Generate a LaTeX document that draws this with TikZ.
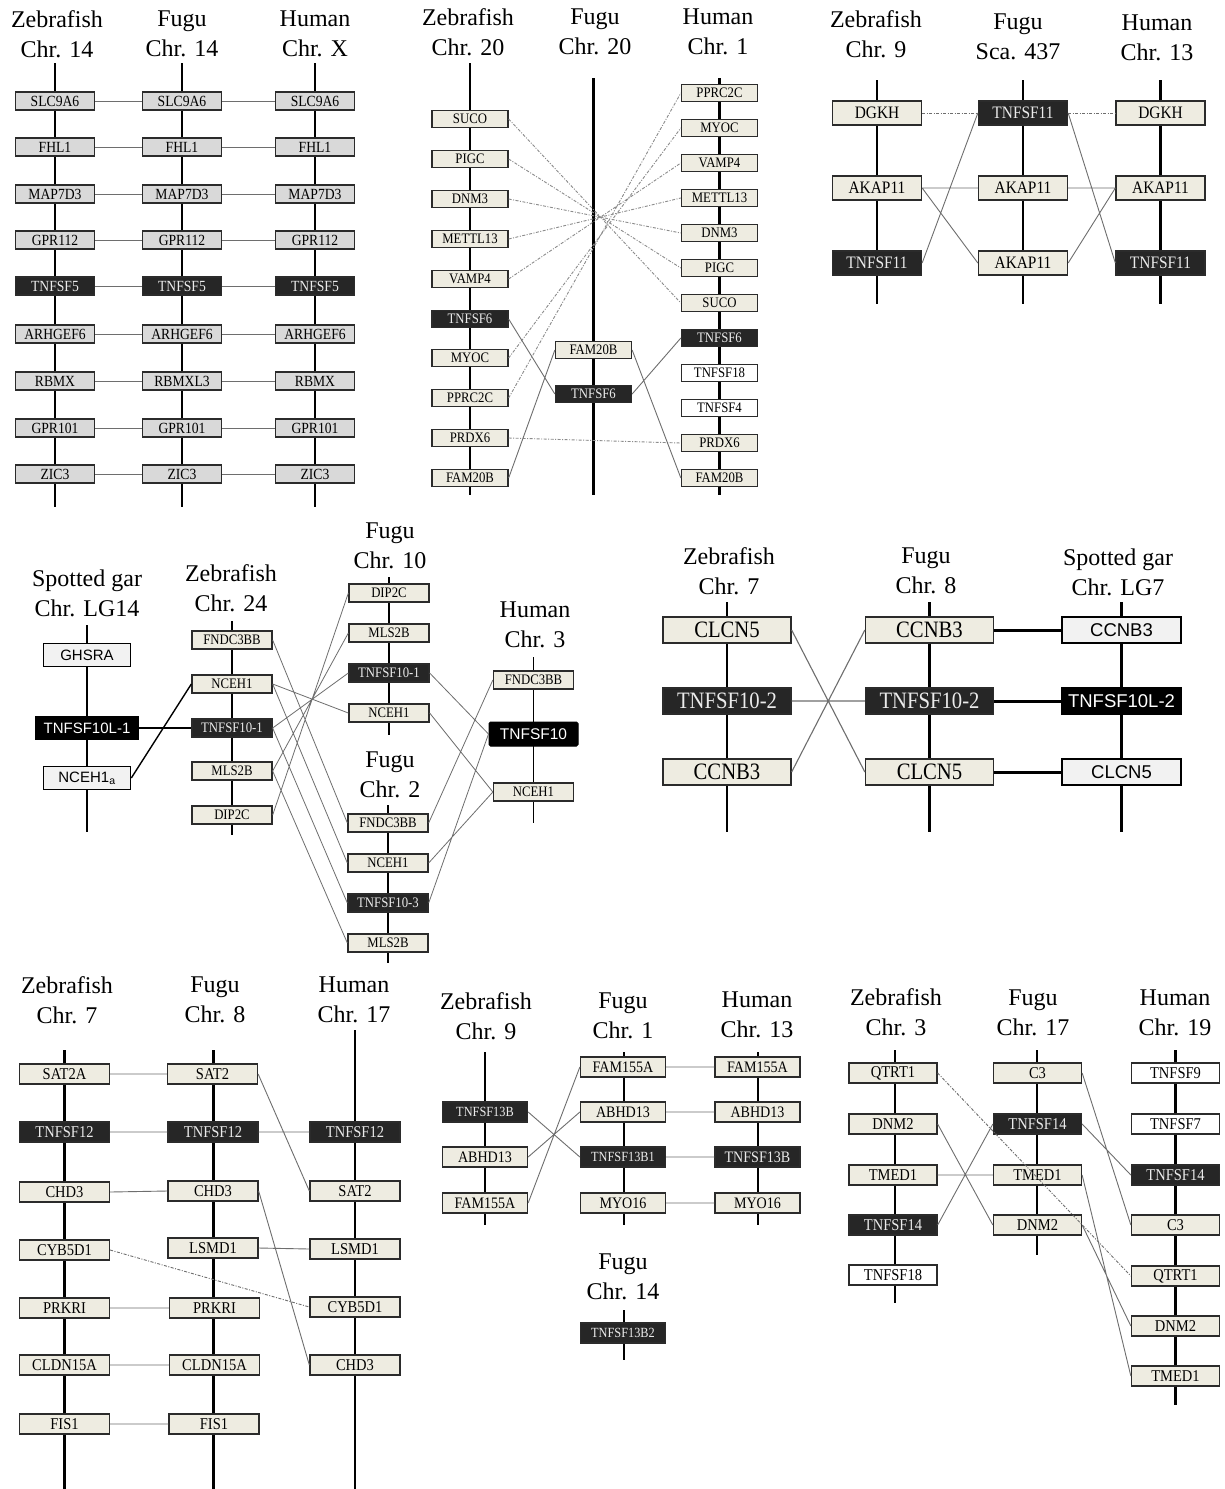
\documentclass[tikz,border=0pt]{standalone}
\usepackage{fontspec}
\setmainfont{Liberation Serif}
\newfontfamily\gsans{Liberation Sans}
\newfontfamily\gf[FakeStretch=0.88]{Liberation Serif}
\definecolor{beige}{HTML}{EEECE1}
\definecolor{lgray}{HTML}{D9D9D9}
\definecolor{darkbox}{HTML}{262626}
\definecolor{bord}{HTML}{2B2B2B}
\definecolor{linkc}{HTML}{6E6E6E}
\definecolor{gwhite}{HTML}{F2F2F2}
\newcommand\fs[1]{\gf\fontsize{#1}{#1}\selectfont}
\newcommand\fss[1]{\gsans\fontsize{#1}{#1}\selectfont}
\begin{document}
\begin{tikzpicture}[x=1pt,y=-1pt,
  chrom/.style={line width=2.6pt,black},
  box/.style={draw=bord,line width=1.3pt,rectangle,inner sep=0pt},
  dk/.style={fill=darkbox,text=white!92!black},
  wt/.style={fill=white},
  hdr/.style={align=center,inner sep=0pt,font=\fontsize{24}{30}\selectfont},
  link/.style={draw=linkc,line width=0.9pt},
  ddl/.style={draw=linkc!80,line width=0.9pt,dash pattern=on 3pt off 1.5pt on 1pt off 1.5pt},
  g1/.style={box,fill=lgray,minimum width=79pt,minimum height=18pt,font=\fs{15.5}},
  d1/.style={g1,dk},
  g2/.style={box,fill=beige,minimum width=76pt,minimum height=17pt,font=\fs{14.5}},
  g3/.style={box,fill=beige,minimum width=89pt,minimum height=24pt,font=\fs{17.5}},
  g4/.style={box,fill=beige,minimum width=80pt,minimum height=18pt,font=\fs{14.5}},
  sg/.style={draw=black,line width=1.6pt,rectangle,inner sep=0pt,fill=gwhite,minimum width=87pt,minimum height=23pt,font=\fss{15}},
  g5/.style={box,fill=beige,minimum width=128pt,minimum height=26pt,font=\fs{23.5}},
  sg5/.style={draw=black,line width=2.6pt,rectangle,inner sep=0pt,fill=gwhite,minimum width=119pt,minimum height=26pt,font=\fss{18.5}},
  g6/.style={box,fill=beige,minimum width=90pt,minimum height=20pt,font=\fs{16.5}},
  g7/.style={box,fill=beige,minimum width=85pt,minimum height=20pt,font=\fs{16}},
  g8/.style={box,fill=beige,minimum width=88pt,minimum height=20pt,font=\fs{16.5}},
]
\useasboundingbox[fill=white] (0,0) rectangle (1224,1489);

% ---------------- Panel 1 ----------------
\node[hdr] (h1a) at (57,34) {Zebrafish\\Chr. 14};
\node[hdr] (h1b) at (182,34) {Fugu\\Chr. 14};
\node[hdr] (h1c) at (315,34) {Human\\Chr. X};
\coordinate (c1at) at (55,63); \coordinate (c1ab) at (55,507);
\coordinate (c1bt) at (182,63); \coordinate (c1bb) at (182,507);
\coordinate (c1ct) at (315,63); \coordinate (c1cb) at (315,507);
\draw[chrom] (c1at)--(c1ab) (c1bt)--(c1bb) (c1ct)--(c1cb);
\foreach \n/\y/\zh/\fu/\st in {1/101/SLC9A6/SLC9A6/g1,2/147/FHL1/FHL1/g1,3/194/MAP7D3/MAP7D3/g1,
  4/240/GPR112/GPR112/g1,5/286/TNFSF5/TNFSF5/d1,6/334/ARHGEF6/ARHGEF6/g1,7/381/RBMX/RBMXL3/g1,
  8/428/GPR101/GPR101/g1,9/474/ZIC3/ZIC3/g1}{
  \node[\st] (p1a\n) at (55,\y) {\zh};
  \node[\st] (p1b\n) at (182,\y) {\fu};
  \node[\st] (p1c\n) at (315,\y) {\zh};
  \draw[link] (p1a\n.east) -- (p1b\n.west) (p1b\n.east) -- (p1c\n.west);
}

% ---------------- Panel 2 ----------------
\node[hdr] (h2a) at (468,32) {Zebrafish\\Chr. 20};
\node[hdr] (h2b) at (595,32) {Fugu\\Chr. 20};
\node[hdr] (h2c) at (718,32) {Human\\Chr. 1};
\coordinate (c2at) at (470,63); \coordinate (c2ab) at (470,495);
\coordinate (c2bt) at (593.5,78); \coordinate (c2bb) at (593.5,495);
\coordinate (c2ct) at (719.5,78); \coordinate (c2cb) at (719.5,495);
\draw[chrom] (c2at)--(c2ab) (c2bt)--(c2bb) (c2ct)--(c2cb);
\node[g2] (p2z1) at (470,119) {SUCO};
\node[g2] (p2z2) at (470,159) {PIGC};
\node[g2] (p2z3) at (470,199) {DNM3};
\node[g2] (p2z4) at (470,239) {METTL13};
\node[g2] (p2z5) at (470,279) {VAMP4};
\node[g2,dk] (p2z6) at (470,319) {TNFSF6};
\node[g2] (p2z7) at (470,358) {MYOC};
\node[g2] (p2z8) at (470,398) {PPRC2C};
\node[g2] (p2z9) at (470,438) {PRDX6};
\node[g2] (p2z10) at (470,478) {FAM20B};
\node[g2] (p2f1) at (593.5,350) {FAM20B};
\node[g2,dk] (p2f2) at (593.5,394) {TNFSF6};
\node[g2] (p2h1) at (719.5,93) {PPRC2C};
\node[g2] (p2h2) at (719.5,128) {MYOC};
\node[g2] (p2h3) at (719.5,163) {VAMP4};
\node[g2] (p2h4) at (719.5,198) {METTL13};
\node[g2] (p2h5) at (719.5,233) {DNM3};
\node[g2] (p2h6) at (719.5,268) {PIGC};
\node[g2] (p2h7) at (719.5,303) {SUCO};
\node[g2,dk] (p2h8) at (719.5,338) {TNFSF6};
\node[g2,wt] (p2h9) at (719.5,373) {TNFSF18};
\node[g2,wt] (p2h10) at (719.5,408) {TNFSF4};
\node[g2] (p2h11) at (719.5,443) {PRDX6};
\node[g2] (p2h12) at (719.5,478) {FAM20B};
\draw[ddl] (p2z1.east)--(p2h7.west) (p2z2.east)--(p2h6.west) (p2z3.east)--(p2h5.west)
  (p2z4.east)--(p2h4.west) (p2z5.east)--(p2h3.west) (p2z7.east)--(p2h2.west)
  (p2z8.east)--(p2h1.west) (p2z9.east)--(p2h11.west);
\draw[link] (p2z6.east)--(p2f2.west) (p2z10.east)--(p2f1.west)
  (p2f1.east)--(p2h12.west) (p2f2.east)--(p2h8.west);

% ---------------- Panel 3 ----------------
\node[hdr] (h3a) at (876,34) {Zebrafish\\Chr. 9};
\node[hdr] (h3b) at (1018,37) {Fugu\\Sca. 437};
\node[hdr] (h3c) at (1157,38) {Human\\Chr. 13};
\coordinate (c3at) at (877,80); \coordinate (c3ab) at (877,304);
\coordinate (c3bt) at (1023,80); \coordinate (c3bb) at (1023,304);
\coordinate (c3ct) at (1160.5,80); \coordinate (c3cb) at (1160.5,304);
\draw[chrom] (c3at)--(c3ab) (c3bt)--(c3bb) (c3ct)--(c3cb);
\node[g3] (p3z1) at (877,113) {DGKH};
\node[g3] (p3z2) at (877,188) {AKAP11};
\node[g3,dk] (p3z3) at (877,263) {TNFSF11};
\node[g3,dk] (p3f1) at (1023,113) {TNFSF11};
\node[g3] (p3f2) at (1023,188) {AKAP11};
\node[g3] (p3f3) at (1023,263) {AKAP11};
\node[g3] (p3h1) at (1160.5,113) {DGKH};
\node[g3] (p3h2) at (1160.5,188) {AKAP11};
\node[g3,dk] (p3h3) at (1160.5,263) {TNFSF11};
\draw[ddl,draw=linkc] (p3z1.east)--(p3f1.west) (p3f1.east)--(p3h1.west);
\draw[link] (p3z2.east)--(p3f2.west) (p3z2.east)--(p3f3.west) (p3z3.east)--(p3f1.west)
  (p3f2.east)--(p3h2.west) (p3f3.east)--(p3h2.west) (p3f1.east)--(p3h3.west);

% ---------------- Panel 4 ----------------
\node[hdr] (h4a) at (87,593) {Spotted gar\\Chr. LG14};
\node[hdr] (h4b) at (231,588) {Zebrafish\\Chr. 24};
\node[hdr] (h4c) at (390,546) {Fugu\\Chr. 10};
\node[hdr] (h4d) at (535,625) {Human\\Chr. 3};
\node[hdr] (h4e) at (390,775) {Fugu\\Chr. 2};
\coordinate (c4st) at (87,625); \coordinate (c4sb) at (87,832);
\coordinate (c4zt) at (232,621); \coordinate (c4zb) at (232,835);
\coordinate (c4at) at (389,577); \coordinate (c4ab) at (389,735);
\coordinate (c4bt) at (388,805); \coordinate (c4bb) at (388,963);
\coordinate (c4ht) at (533.5,657); \coordinate (c4hb) at (533.5,823);
\draw[chrom] (c4st)--(c4sb);
\draw[line width=1.8pt] (c4zt)--(c4zb) (c4at)--(c4ab) (c4bt)--(c4bb) (c4ht)--(c4hb);
\node[sg] (p4s1) at (87,655) {GHSRA};
\node[sg,fill=black,text=white,minimum width=103pt] (p4s2) at (87,728) {TNFSF10L-1};
\node[sg] (p4s3) at (87,778) {NCEH1\textsubscript{a}};
\node[g4] (p4z1) at (232,640) {FNDC3BB};
\node[g4] (p4z2) at (232,684) {NCEH1};
\node[g4,dk] (p4z3) at (232,728) {TNFSF10-1};
\node[g4] (p4z4) at (232,771) {MLS2B};
\node[g4] (p4z5) at (232,815) {DIP2C};
\node[g4] (p4a1) at (389,593) {DIP2C};
\node[g4] (p4a2) at (389,633) {MLS2B};
\node[g4,dk] (p4a3) at (389,673) {TNFSF10-1};
\node[g4] (p4a4) at (389,713) {NCEH1};
\node[g4] (p4b1) at (388,823) {FNDC3BB};
\node[g4] (p4b2) at (388,863) {NCEH1};
\node[g4,dk] (p4b3) at (388,903) {TNFSF10-3};
\node[g4] (p4b4) at (388,943) {MLS2B};
\node[g4] (p4h1) at (533.5,680) {FNDC3BB};
\node[draw=black,line width=1pt,fill=black,text=white,rounded corners=1.5pt,minimum width=89pt,minimum height=24pt,inner sep=0pt,font=\fss{15.5}] (p4h2) at (533.5,734) {TNFSF10};
\node[g4] (p4h3) at (533.5,792) {NCEH1};
\draw[line width=2.2pt] (p4s2.east)--(p4z3.west);
\draw[line width=1.4pt] (p4s3.east)--(p4z2.west);
\draw[link,line width=0.8pt] (p4z1.east)--(p4b1.west) (p4z2.east)--(p4a4.west) (p4z2.east)--(p4b2.west)
  (p4z3.east)--(p4a3.west) (p4z3.east)--(p4b3.west) (p4z4.east)--(p4a2.west)
  (p4z4.east)--(p4b4.west) (p4z5.east)--(p4a1.west)
  (p4a3.east)--(p4h2.west) (p4a4.east)--(p4h3.west) (p4b1.east)--(p4h1.west)
  (p4b2.east)--(p4h3.west) (p4b3.east)--(p4h2.west);

% ---------------- Panel 5 ----------------
\node[hdr] (h5a) at (729,571) {Zebrafish\\Chr. 7};
\node[hdr] (h5b) at (926,571) {Fugu\\Chr. 8};
\node[hdr] (h5c) at (1118,572) {Spotted gar\\Chr. LG7};
\coordinate (c5at) at (727,602); \coordinate (c5ab) at (727,832);
\coordinate (c5bt) at (929.5,602); \coordinate (c5bb) at (929.5,832);
\coordinate (c5ct) at (1121.5,602); \coordinate (c5cb) at (1121.5,832);
\draw[chrom,line width=2.8pt] (c5at)--(c5ab) (c5bt)--(c5bb) (c5ct)--(c5cb);
\node[g5] (p5z1) at (727,630) {CLCN5};
\node[g5,dk] (p5z2) at (727,701) {TNFSF10-2};
\node[g5] (p5z3) at (727,772) {CCNB3};
\node[g5] (p5f1) at (929.5,630) {CCNB3};
\node[g5,dk] (p5f2) at (929.5,701) {TNFSF10-2};
\node[g5] (p5f3) at (929.5,772) {CLCN5};
\node[sg5] (p5s1) at (1121.5,630) {CCNB3};
\node[sg5,fill=black,text=white] (p5s2) at (1121.5,701) {TNFSF10L-2};
\node[sg5] (p5s3) at (1121.5,772) {CLCN5};
\draw[link,line width=1.1pt] (p5z1.east)--(p5f3.west) (p5z2.east)--(p5f2.west) (p5z3.east)--(p5f1.west);
\draw[line width=3pt] (p5f1.east)--(p5s1.west) (p5f2.east)--(p5s2.west) (p5f3.east)--(p5s3.west);

% ---------------- Panel 6 ----------------
\node[hdr] (h6a) at (67,1000) {Zebrafish\\Chr. 7};
\node[hdr] (h6b) at (215,1000) {Fugu\\Chr. 8};
\node[hdr] (h6c) at (354,1000) {Human\\Chr. 17};
\coordinate (c6at) at (64.5,1050); \coordinate (c6ab) at (64.5,1489);
\coordinate (c6bt) at (213.5,1050); \coordinate (c6bb) at (213.5,1489);
\coordinate (c6ct) at (355,1030); \coordinate (c6cb) at (355,1489);
\draw[chrom] (c6at)--(c6ab) (c6bt)--(c6bb) (c6ct)--(c6cb);
\node[g6] (p6z1) at (64.5,1074) {SAT2A};
\node[g6,dk] (p6z2) at (64.5,1132) {TNFSF12};
\node[g6] (p6z3) at (64.5,1192) {CHD3};
\node[g6] (p6z4) at (64.5,1250) {CYB5D1};
\node[g6] (p6z5) at (64.5,1308) {PRKRI};
\node[g6] (p6z6) at (64.5,1365) {CLDN15A};
\node[g6] (p6z7) at (64.5,1424) {FIS1};
\node[g6] (p6f1) at (212.5,1074) {SAT2};
\node[g6,dk] (p6f2) at (213,1132) {TNFSF12};
\node[g6] (p6f3) at (213,1191) {CHD3};
\node[g6] (p6f4) at (213,1248) {LSMD1};
\node[g6] (p6f5) at (214.5,1308) {PRKRI};
\node[g6] (p6f6) at (214.5,1365) {CLDN15A};
\node[g6] (p6f7) at (214,1424) {FIS1};
\node[g6,dk] (p6h1) at (355,1132) {TNFSF12};
\node[g6] (p6h2) at (355,1191) {SAT2};
\node[g6] (p6h3) at (355,1249) {LSMD1};
\node[g6] (p6h4) at (355,1307) {CYB5D1};
\node[g6] (p6h5) at (355,1365) {CHD3};
\draw[link] (p6z1.east)--(p6f1.west) (p6z2.east)--(p6f2.west) (p6z3.east)--(p6f3.west)
  (p6z5.east)--(p6f5.west) (p6z6.east)--(p6f6.west) (p6z7.east)--(p6f7.west)
  (p6f1.east)--(p6h2.west) (p6f2.east)--(p6h1.west) (p6f3.east)--(p6h5.west) (p6f4.east)--(p6h3.west);
\draw[ddl,draw=linkc] (p6z4.east)--(p6h4.west);

% ---------------- Panel 7 ----------------
\node[hdr] (h7a) at (486,1016) {Zebrafish\\Chr. 9};
\node[hdr] (h7b) at (623,1016) {Fugu\\Chr. 1};
\node[hdr] (h7c) at (757,1015) {Human\\Chr. 13};
\node[hdr] (h7d) at (623,1277) {Fugu\\Chr. 14};
\coordinate (c7at) at (485,1052); \coordinate (c7ab) at (485,1225);
\coordinate (c7bt) at (624,1052); \coordinate (c7bb) at (624,1225);
\coordinate (c7ct) at (758,1052); \coordinate (c7cb) at (758,1225);
\coordinate (c7dt) at (624,1310); \coordinate (c7db) at (624,1360);
\draw[chrom] (c7at)--(c7ab) (c7bt)--(c7bb) (c7ct)--(c7cb) (c7dt)--(c7db);
\node[g7,dk,font=\fs{14}] (p7z1) at (485,1112) {TNFSF13B};
\node[g7] (p7z2) at (485,1157) {ABHD13};
\node[g7] (p7z3) at (485,1203) {FAM155A};
\node[g7] (p7f1) at (623,1067) {FAM155A};
\node[g7] (p7f2) at (623,1112) {ABHD13};
\node[g7,dk,font=\fs{14}] (p7f3) at (623,1157) {TNFSF13B1};
\node[g7] (p7f4) at (623,1203) {MYO16};
\node[g7] (p7h1) at (757.5,1067) {FAM155A};
\node[g7] (p7h2) at (757.5,1112) {ABHD13};
\node[g7,dk] (p7h3) at (757.5,1157) {TNFSF13B};
\node[g7] (p7h4) at (757.5,1203) {MYO16};
\node[g7,dk,font=\fs{14}] (p7g1) at (623,1333) {TNFSF13B2};
\draw[link] (p7z1.east)--(p7f3.west) (p7z2.east)--(p7f2.west) (p7z3.east)--(p7f1.west)
  (p7f1.east)--(p7h1.west) (p7f2.east)--(p7h2.west) (p7f3.east)--(p7h3.west) (p7f4.east)--(p7h4.west);

% ---------------- Panel 8 ----------------
\node[hdr] (h8a) at (896,1012) {Zebrafish\\Chr. 3};
\node[hdr] (h8b) at (1033,1013) {Fugu\\Chr. 17};
\node[hdr] (h8c) at (1175,1013) {Human\\Chr. 19};
\coordinate (c8at) at (895,1050); \coordinate (c8ab) at (895,1303);
\coordinate (c8bt) at (1037,1050); \coordinate (c8bb) at (1037,1255);
\coordinate (c8ct) at (1175.5,1050); \coordinate (c8cb) at (1175.5,1405);
\draw[chrom] (c8at)--(c8ab) (c8bt)--(c8bb) (c8ct)--(c8cb);
\node[g8] (p8z1) at (893,1073) {QTRT1};
\node[g8] (p8z2) at (893,1124) {DNM2};
\node[g8] (p8z3) at (893,1175) {TMED1};
\node[g8,dk] (p8z4) at (893,1225) {TNFSF14};
\node[g8,wt] (p8z5) at (893,1275) {TNFSF18};
\node[g8] (p8f1) at (1037.5,1073) {C3};
\node[g8,dk] (p8f2) at (1037.5,1124) {TNFSF14};
\node[g8] (p8f3) at (1037.5,1175) {TMED1};
\node[g8] (p8f4) at (1037.5,1225) {DNM2};
\node[g8,wt] (p8h1) at (1175.5,1073) {TNFSF9};
\node[g8,wt] (p8h2) at (1175.5,1124) {TNFSF7};
\node[g8,dk] (p8h3) at (1175.5,1175) {TNFSF14};
\node[g8] (p8h4) at (1175.5,1225) {C3};
\node[g8] (p8h5) at (1175.5,1276) {QTRT1};
\node[g8] (p8h6) at (1175.5,1326) {DNM2};
\node[g8] (p8h7) at (1175.5,1376) {TMED1};
\draw[ddl,draw=linkc] (p8z1.east)--(p8h5.west);
\draw[link] (p8z2.east)--(p8f4.west) (p8z3.east)--(p8f3.west) (p8z4.east)--(p8f2.west)
  (p8f1.east)--(p8h4.west) (p8f2.east)--(p8h3.west) (p8f3.east)--(p8h7.west) (p8f4.east)--(p8h6.west);
\end{tikzpicture}
\end{document}
